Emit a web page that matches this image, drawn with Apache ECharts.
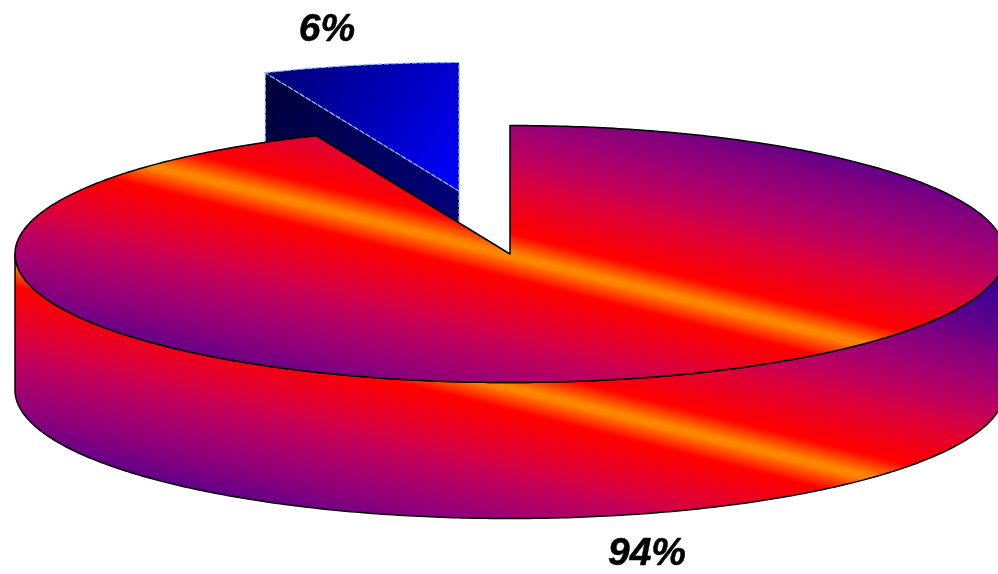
<!DOCTYPE html>
<html>
<head>
<meta charset="utf-8">
<style>html,body{margin:0;padding:0;background:#fff}#c{width:998px;height:574px}</style>
<script src="https://cdn.jsdelivr.net/npm/echarts@6/dist/echarts.min.js"></script>
</head>
<body>
<div id="c"></div>
<script>
// Shares; labels show them rounded
const sliceNames = ['Small slice', 'Large slice'];
const sliceValues = [6.4, 93.6];

const cx = 510, cy = 254, rx = 495, ry = 128.5, depth = 136;
const explode = [[-51, -63], [0, 0]];
const labelAt = [[327, 30], [647, 554]];

const total = sliceValues.reduce((a, b) => a + b, 0);
const n = [-0.2425, 0.970];
const D = 230;

function hotStops() {
  const half = [[0, '#ff8800'], [3, '#ff8000'], [22, '#ff0000'], [34, '#f6000c'], [62, '#e20030'],
    [92, '#c2005a'], [122, '#a20072'], [150, '#84007e'], [178, '#5e008a'], [230, '#30009a']];
  const s = [];
  for (let i = half.length - 1; i > 0; i--) s.push({offset: 0.5 - half[i][0] / (2 * D), color: half[i][1]});
  half.forEach(h => s.push({offset: 0.5 + h[0] / (2 * D), color: h[1]}));
  return s;
}
function hotGradient(mx, my) {
  return {type: 'linear', global: true,
    x: mx - n[0] * D, y: my - n[1] * D, x2: mx + n[0] * D, y2: my + n[1] * D,
    colorStops: hotStops()};
}
function blueGradient(x, y, x2, y2, c0, c1) {
  return {type: 'linear', global: true, x, y, x2, y2,
    colorStops: [{offset: 0, color: c0}, {offset: 1, color: c1}]};
}
function rim(a, dx, dy, drop) {
  return [cx + dx + rx * Math.sin(a), cy + dy + drop - ry * Math.cos(a)];
}
function arc(a0, a1, dx, dy, drop) {
  const pts = [], steps = Math.max(8, Math.ceil(Math.abs(a1 - a0) * 90));
  for (let i = 0; i <= steps; i++) pts.push(rim(a0 + (a1 - a0) * i / steps, dx, dy, drop));
  return pts;
}

const option = {
  backgroundColor: '#ffffff',
  animation: false,
  series: [{
    type: 'custom',
    coordinateSystem: 'none',
    silent: true,
    clip: false,
    data: sliceValues.map((v, i) => ({name: sliceNames[i], value: [v]})),
    renderItem(params, api) {
      const i = params.dataIndex, val = api.value(0);
      let before = -sliceValues[0];
      for (let k = 0; k < i; k++) before += sliceValues[k];
      const a0 = before / total * 2 * Math.PI, a1 = (before + val) / total * 2 * Math.PI;
      const [dx, dy] = explode[i];
      const kids = [];
      const apex = [cx + dx, cy + dy];
      const text = {
        type: 'text', x: labelAt[i][0], y: labelAt[i][1],
        style: {text: Math.round(val) + '%', fill: '#000', stroke: '#000', lineWidth: 0.5,
          align: 'center', verticalAlign: 'middle',
          font: 'italic bold 39px "Liberation Sans", Arial, sans-serif'}
      };
      if (i === 0) {
        const dash = {stroke: '#86bcf8', lineWidth: 1.2, lineDash: [5, 2]};
        const p0 = rim(a0, dx, dy, 0), p1 = rim(a1, dx, dy, 0);
        kids.push({type: 'polygon', shape: {points: [p0, apex, [apex[0], apex[1] + depth], [p0[0], p0[1] + depth]]},
          style: {fill: blueGradient(p0[0], p0[1], apex[0], apex[1], '#000038', '#000078'), ...dash}});
        kids.push({type: 'polygon', shape: {points: arc(a0, a1, dx, dy, 0).concat([apex])},
          style: {fill: blueGradient(p0[0], p1[1], apex[0], apex[1], '#00006e', '#0000ff'), ...dash}});
      } else {
        const black = {stroke: '#000', lineWidth: 1.5, lineJoin: 'round'};
        const lower = arc(Math.PI / 2, Math.PI * 1.5, dx, dy, 0);
        const lowerDrop = arc(Math.PI * 1.5, Math.PI / 2, dx, dy, depth);
        kids.push({type: 'polygon', shape: {points: lower.concat(lowerDrop)},
          style: {fill: hotGradient(cx, cy + 133.5), ...black}});
        kids.push({type: 'polygon', shape: {points: arc(a0, a1, dx, dy, 0).concat([apex])},
          style: {fill: hotGradient(cx, cy + 1.5), ...black}});
      }
      kids.push(text);
      return {type: 'group', children: kids};
    }
  }]
};
const chart = echarts.init(document.getElementById('c'), null, {renderer: 'canvas'});
chart.setOption(option);
</script>
</body>
</html>
